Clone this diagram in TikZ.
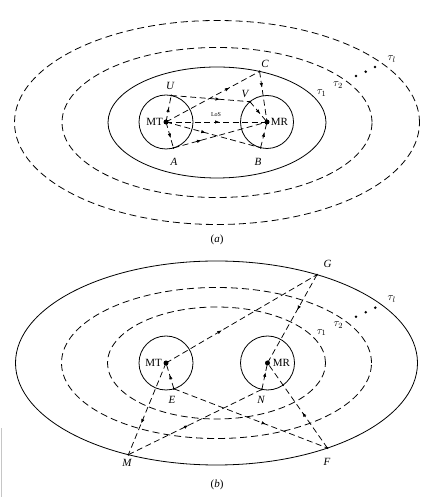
\documentclass[tikz,border=0pt]{standalone}
\usepackage{fontspec}
\setmainfont{Liberation Serif}
\usetikzlibrary{arrows.meta,decorations.markings}
\begin{document}
\begin{tikzpicture}[x=1pt,y=1pt,
  ln/.style={line width=0.8pt},
  dsh/.style={line width=0.8pt,dash pattern=on 7pt off 4pt},
  ray/.style={line width=0.75pt,dash pattern=on 6pt off 3.5pt},
  midarr/.style={postaction={decorate},decoration={markings,mark=at position #1 with {\arrow{Latex[length=4.5pt,width=3.5pt]}}}},
  lbl/.style={font=\fontsize{11}{13}\selectfont\itshape,inner sep=0pt},
  txt/.style={font=\fontsize{11}{13}\selectfont,inner sep=0pt},
  tau/.style={font=\fontsize{11}{13}\selectfont,inner sep=0pt},
  bigdot/.style={fill=black},
]
\useasboundingbox (0,0) rectangle (436,497);

% ================= (a) =================
\coordinate (ca) at (217,374.5);
\draw[ln]  (ca) ellipse [x radius=109pt, y radius=55.5pt];
\draw[dsh] (ca) ellipse [x radius=155pt, y radius=75pt];
\draw[dsh] (ca) ellipse [x radius=202.5pt, y radius=102pt];

\coordinate (MTa) at (166,375);
\coordinate (MRa) at (267,375);
\draw[ln] (MTa) circle[radius=27pt];
\draw[ln] (MRa) circle[radius=26.5pt];

\path (MTa) ++(79:27pt) coordinate (Ua);
\path (MTa) ++(-74:27pt) coordinate (Aa);
\path (MRa) ++(130:26.5pt) coordinate (Va);
\path (MRa) ++(-104:26.5pt) coordinate (Ba);
\path (ca) ++(67:109pt and 55.5pt) coordinate (Ca);

\draw[ray,midarr=0.55] (MTa) -- (Ua);
\draw[ray,midarr=0.62] (Ua) -- (Va);
\draw[ray,midarr=0.6] (Va) -- (MRa);
\draw[ray,midarr=0.68] (MTa) -- (Ca);
\draw[ray,midarr=0.32] (Ca) -- (MRa);
\draw[ray,midarr=0.53] (MTa) -- (MRa);
\draw[ray,midarr=0.62] (MTa) -- (Aa);
\draw[ray,midarr=0.3] (Aa) -- (MRa);
\draw[ray,midarr=0.42] (MTa) -- (Ba);
\draw[ray,midarr=0.6] (Ba) -- (MRa);

\fill[bigdot] (MTa) circle[radius=2.5pt];
\fill[bigdot] (MRa) circle[radius=2.5pt];
\foreach \p in {Ua,Aa,Va,Ba,Ca} \fill (\p) circle[radius=1.1pt];

\node[txt] (labMTa) at (154.5,375) {MT};
\node[txt] (labMRa) at (279.5,375) {MR};
\node[font=\fontsize{6}{7}\selectfont,inner sep=0pt] (labLoS) at (216,382.5) {LoS};
\node[lbl] (labU) at (170,411) {U};
\node[lbl] (labA) at (174,335) {A};
\node[lbl] (labV) at (245,403) {V};
\node[lbl] (labB) at (258,335) {B};
\node[lbl] (labC) at (265,433) {C};

\node[tau] (t1a) at (321.7,404) {$\tau_1$};
\node[tau] (t2a) at (338,412) {$\tau_2$};
\node[tau] (tla) at (391.7,438) {$\tau_l$};
\fill (356,421) circle[radius=1.4pt];
\fill (365.7,425.3) circle[radius=1.4pt];
\fill (375,430) circle[radius=1.4pt];

\node[txt] (capa) at (217,257) {(\textit{a})};

% ================= (b) =================
\coordinate (cb) at (216.5,134);
\draw[ln]  (cb) ellipse [x radius=201pt, y radius=102pt];
\draw[dsh] (cb) ellipse [x radius=155pt, y radius=75.5pt];
\draw[dsh] (cb) ellipse [x radius=109pt, y radius=56pt];

\coordinate (MTb) at (166,134);
\coordinate (MRb) at (267.5,134);
\draw[ln] (MTb) circle[radius=27pt];
\draw[ln] (MRb) circle[radius=27pt];

\path (cb) ++(60:201pt and 102pt) coordinate (Gb);
\path (cb) ++(244:201pt and 102pt) coordinate (Mb);
\path (cb) ++(-56.5:201pt and 102pt) coordinate (Fb);
\path (MTb) ++(-73:27pt) coordinate (Eb);
\path (MRb) ++(-102:27pt) coordinate (Nb);

\draw[ray,midarr=0.37] (MTb) -- (Gb);
\draw[ray,midarr=0.4] (Gb) -- (MRb);
\draw[ray,midarr=0.66] (MTb) -- (Mb);
\draw[ray,midarr=0.45] (Mb) -- (Nb);
\draw[ray,midarr=0.65] (Nb) -- (MRb);
\draw[ray,midarr=0.55] (Eb) -- (MTb);
\draw[ray,midarr=0.6] (Eb) -- (Fb);
\draw[ray,midarr=0.42] (Fb) -- (MRb);

\fill[bigdot] (MTb) circle[radius=2.5pt];
\fill[bigdot] (MRb) circle[radius=2.5pt];
\foreach \p in {Gb,Mb,Fb,Eb,Nb} \fill (\p) circle[radius=1.1pt];

\node[txt] (labMTb) at (153.5,134) {MT};
\node[txt] (labMRb) at (281.5,134) {MR};
\node[lbl] (labG) at (327.5,233) {G};
\node[lbl] (labE) at (172,97) {E};
\node[lbl] (labN) at (261,97) {N};
\node[lbl] (labM) at (127,34) {M};
\node[lbl] (labF) at (327,35) {F};

\node[tau] (t1b) at (321.7,164.3) {$\tau_1$};
\node[tau] (t2b) at (338.3,172) {$\tau_2$};
\node[tau] (tlb) at (391.7,197.7) {$\tau_l$};
\fill (356,180.3) circle[radius=1.4pt];
\fill (365.7,184.7) circle[radius=1.4pt];
\fill (375.3,189.3) circle[radius=1.4pt];

\node[txt] (capb) at (217,12) {(\textit{b})};

\draw[gray!45,line width=0.6pt] (1.5,0) -- (1.5,69);
\end{tikzpicture}
\end{document}
